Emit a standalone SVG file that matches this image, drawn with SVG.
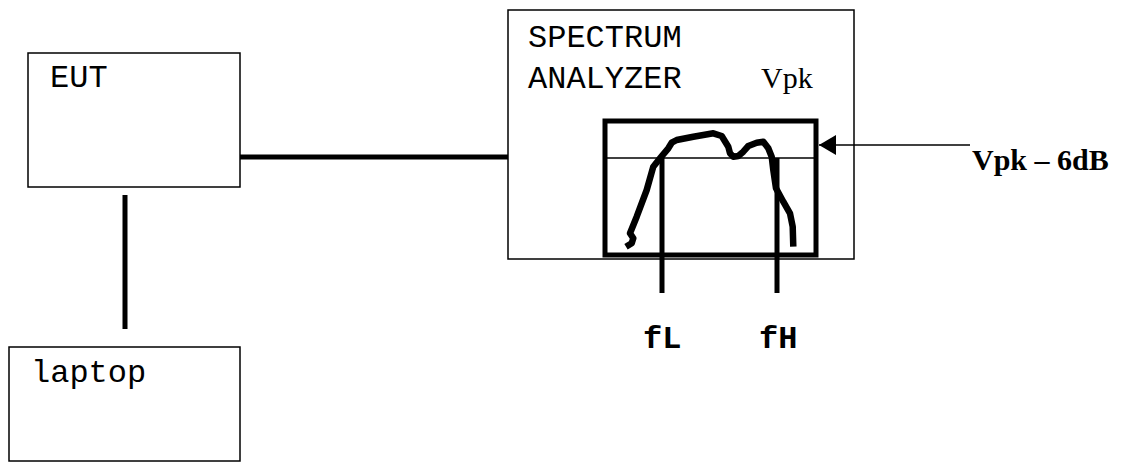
<svg xmlns="http://www.w3.org/2000/svg" width="1121" height="462" viewBox="0 0 1121 462">
<style>
.box{fill:#fff;stroke:#000;stroke-width:1.5}
.mono{font-family:"Liberation Mono","Courier New",monospace;font-size:32px;fill:#000}
.serif{font-family:"Liberation Serif","Times New Roman",serif;font-size:30px;fill:#000}
.thick{stroke:#000;stroke-width:5;fill:none}
.thin{stroke:#000;stroke-width:1.5;fill:none}
</style>
<defs>
<marker id="ah" markerWidth="17" markerHeight="20" refX="17" refY="10" orient="auto" markerUnits="userSpaceOnUse">
<path d="M0,0 L17,10 L0,20 Z" fill="#000"/>
</marker>
</defs>
<g id="eut">
<rect class="box" x="28" y="53" width="212" height="134"/>
<text class="mono" x="50" y="87">EUT</text>
</g>
<g id="laptop">
<rect class="box" x="9" y="347" width="231" height="114"/>
<text class="mono" x="31" y="382">laptop</text>
</g>
<g id="spectrum-analyzer">
<rect class="box" x="508" y="10" width="346" height="249"/>
<text class="mono" x="528" y="47">SPECTRUM</text>
<text class="mono" x="528" y="88">ANALYZER</text>
<text class="serif" x="761" y="88" font-size="31">Vpk</text>
<rect x="605" y="121" width="211" height="134" fill="none" stroke="#000" stroke-width="5"/>
<line class="thin" x1="605" y1="158" x2="816" y2="158"/>
<path fill="none" stroke="#000" stroke-width="6.5" stroke-linejoin="round" d="M626,246.7 L631.7,243.3 L633.3,238.3 L630,233.3 L636.7,216.7 L646.7,190 L653.3,166.7 L660,158.3 L668.3,148.3 L671.7,142.7 L676.7,140 L693.3,136.7 L713.3,133.3 L721.7,136 L728.3,146.7 L730,153.3 L733.3,156.7 L738.3,156 L743.3,151.7 L748.3,146 L756.7,142.7 L763.3,141.7 L768.3,148.3 L771.7,156.7 L773.3,170 L776,188.3 L783.3,201.7 L790,213.3 L792.7,226.7 L793.3,246.7"/>
</g>
<g id="connectors">
<line class="thick" x1="240" y1="157" x2="508" y2="157"/>
<line class="thick" x1="125" y1="195" x2="125" y2="329"/>
<line class="thin" x1="970" y1="145" x2="819" y2="145" marker-end="url(#ah)"/>
<line class="thick" x1="662" y1="158" x2="662" y2="293"/>
<line class="thick" x1="777" y1="158" x2="777" y2="293"/>
</g>
<g id="labels">
<text class="serif" x="972" y="170" font-weight="bold" font-size="33">Vpk – 6dB</text>
<text class="mono" x="643" y="348" font-weight="bold">fL</text>
<text class="mono" x="759" y="348" font-weight="bold">fH</text>
</g>
</svg>
